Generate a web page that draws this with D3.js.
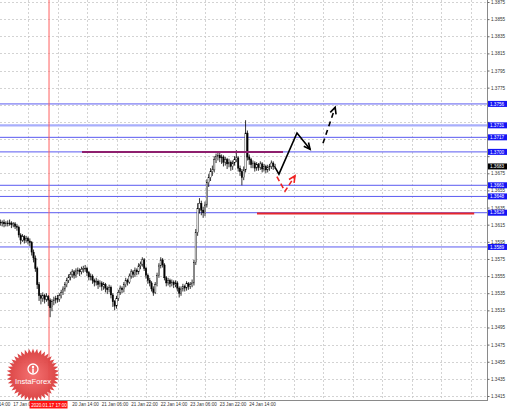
<!DOCTYPE html>
<html><head><meta charset="utf-8">
<script src="https://cdn.jsdelivr.net/npm/d3@7"></script>
<style>body{margin:0;background:#fff;} svg{display:block;font-family:"Liberation Sans",Arial,sans-serif;}</style>
</head><body>
<svg id="c" width="510" height="409"></svg>
<script>
// ---- DATA (H1 bars, hour index from 16 Jan 14:00) ----
const firstOpen = 1.3619;
const closes = [
1.3618,1.3617,1.3618,1.3616,1.3617,1.3616,1.3617,1.3615,1.3616,1.3613,
1.3612,1.3603,1.3597,1.3601,1.3597,1.3599,1.3596,1.3594,1.3583,1.3576,
1.3564,1.3545,1.3532,1.3529,1.3532,1.3528,1.3531,1.3527,1.3518,1.3525,
1.3527,1.3529,1.3528,1.3532,1.3536,1.3540,1.3545,1.3550,1.3554,1.3557,
1.3560,1.3556,1.3561,1.3562,1.3560,1.3563,1.3564,1.3564,1.3559,1.3554,
1.3555,1.3550,1.3548,1.3549,1.3545,1.3547,1.3543,1.3545,1.3541,1.3539,
1.3542,1.3533,1.3525,1.3520,1.3529,1.3536,1.3541,1.3539,1.3545,1.3550,
1.3548,1.3555,1.3560,1.3557,1.3562,1.3560,1.3567,1.3569,1.3574,1.3564,
1.3556,1.3550,1.3547,1.3540,1.3536,1.3545,1.3556,1.3567,1.3574,1.3568,
1.3553,1.3547,1.3550,1.3546,1.3548,1.3545,1.3547,1.3541,1.3535,1.3540,
1.3543,1.3541,1.3546,1.3543,1.3545,1.3547,1.3571,1.3606,1.3634,1.3640,
1.3632,1.3629,1.3638,1.3664,1.3670,1.3677,1.3679,1.3691,1.3695,1.3696,
1.3693,1.3694,1.3688,1.3691,1.3686,1.3688,1.3683,1.3687,1.3691,1.3693,
1.3681,1.3677,1.3670,1.3679,1.3722,1.3694,1.3691,1.3685,1.3687,1.3681,
1.3685,1.3682,1.3686,1.3680,1.3683,1.3679,1.3682,1.3683,1.3687,1.3683,
1.3683];
const highs = [
1.3622,1.3621,1.3620,1.3621,1.3619,1.3620,1.3621,1.3619,1.3618,1.3618,
1.3616,1.3614,1.3605,1.3604,1.3603,1.3602,1.3601,1.3599,1.3596,1.3586,
1.3579,1.3566,1.3548,1.3535,1.3536,1.3534,1.3535,1.3533,1.3529,1.3528,
1.3531,1.3532,1.3533,1.3535,1.3539,1.3543,1.3548,1.3553,1.3557,1.3560,
1.3563,1.3562,1.3564,1.3565,1.3564,1.3566,1.3567,1.3568,1.3566,1.3561,
1.3558,1.3557,1.3552,1.3553,1.3551,1.3550,1.3549,1.3548,1.3547,1.3543,
1.3545,1.3544,1.3535,1.3527,1.3532,1.3539,1.3544,1.3543,1.3548,1.3553,
1.3552,1.3558,1.3563,1.3562,1.3565,1.3564,1.3570,1.3572,1.3577,1.3576,
1.3566,1.3558,1.3553,1.3549,1.3543,1.3548,1.3559,1.3570,1.3577,1.3576,
1.3570,1.3555,1.3553,1.3552,1.3551,1.3550,1.3550,1.3549,1.3543,1.3543,
1.3546,1.3545,1.3549,1.3548,1.3548,1.3551,1.3574,1.3610,1.3640,1.3646,
1.3643,1.3636,1.3642,1.3668,1.3674,1.3681,1.3684,1.3695,1.3698,1.3700,
1.3699,1.3697,1.3696,1.3694,1.3693,1.3692,1.3690,1.3690,1.3695,1.3702,
1.3695,1.3684,1.3680,1.3683,1.3737,1.3725,1.3697,1.3693,1.3690,1.3689,
1.3688,1.3687,1.3689,1.3688,1.3686,1.3685,1.3685,1.3686,1.3690,1.3689,
1.3686];
const lows = [
1.3615,1.3614,1.3613,1.3612,1.3613,1.3613,1.3614,1.3611,1.3612,1.3610,
1.3608,1.3600,1.3592,1.3595,1.3593,1.3594,1.3592,1.3590,1.3579,1.3571,
1.3560,1.3540,1.3526,1.3522,1.3525,1.3523,1.3525,1.3520,1.3507,1.3514,
1.3521,1.3523,1.3524,1.3525,1.3529,1.3533,1.3537,1.3542,1.3547,1.3550,
1.3553,1.3552,1.3553,1.3557,1.3555,1.3557,1.3559,1.3560,1.3555,1.3550,
1.3550,1.3546,1.3543,1.3544,1.3540,1.3542,1.3538,1.3539,1.3536,1.3534,
1.3536,1.3529,1.3519,1.3515,1.3517,1.3526,1.3533,1.3535,1.3536,1.3542,
1.3544,1.3546,1.3552,1.3553,1.3554,1.3556,1.3557,1.3563,1.3566,1.3561,
1.3552,1.3546,1.3543,1.3537,1.3532,1.3534,1.3543,1.3553,1.3564,1.3565,
1.3550,1.3543,1.3544,1.3542,1.3543,1.3541,1.3542,1.3537,1.3530,1.3532,
1.3537,1.3537,1.3538,1.3539,1.3540,1.3542,1.3544,1.3568,1.3602,1.3628,
1.3626,1.3623,1.3625,1.3635,1.3659,1.3666,1.3672,1.3676,1.3687,1.3690,
1.3688,1.3686,1.3683,1.3684,1.3680,1.3682,1.3678,1.3679,1.3684,1.3688,
1.3677,1.3672,1.3661,1.3667,1.3676,1.3690,1.3685,1.3681,1.3681,1.3677,
1.3678,1.3678,1.3679,1.3676,1.3677,1.3675,1.3676,1.3678,1.3680,1.3679,
1.3680];

const priceTicks = [1.3875,1.3855,1.3835,1.3815,1.3795,1.3775,1.3755,1.3735,1.3715,1.3695,1.3675,1.3655,1.3635,1.3615,1.3595,1.3575,1.3555,1.3535,1.3515,1.3495,1.3475,1.3455,1.3435,1.3415];
const timeLabelHours = [0,16,48,64,80,96,112,128,144];
const timeLabels = ["16 Jan 14:00","17 Jan 06:00","20 Jan 14:00","21 Jan 06:00","21 Jan 22:00","22 Jan 14:00","23 Jan 06:00","23 Jan 22:00","24 Jan 14:00"];
const gridHours = [0,16,32,48,64,80,96,112,128,144,160,176,192,208,224,240,256];

const levelValues = [1.3756,1.3731,1.3717,1.3700,1.3661,1.3648,1.3629,1.3589];
const levelLabels = ["1.3756","1.3731","1.3717","1.3700","1.3661","1.3648","1.3629","1.3589"];
const currentPrice = 1.3683;
const purpleSeg = {from:45.3, to:154.3, price:1.3700};
const redSeg = {from:140.2, to:258, price:1.3628};
const vLineHour = 27.4;
const vLineLabel = "2020.01.17 17:00";

const mainArrow = [[150.0,1.3682],[152.1,1.3674],[161.9,1.3722],[169.0,1.3703]];
const dashArrow = [[176.0,1.3710],[182.6,1.3752]];
const redArrow = [[151.0,1.3671],[155.4,1.3654],[160.8,1.3672]];

// ---- CHART ----
const plotR=487, plotB=400;
const svg=d3.select("#c");
const x=d3.scaleLinear().domain([0,144]).range([-1.5,264]);
const y=d3.scaleLinear().domain([1.3415,1.3875]).range([396,2]);

const defs=svg.append("defs");
defs.append("clipPath").attr("id","pc").append("rect").attr("x",0).attr("y",0).attr("width",plotR).attr("height",plotB);
const g=svg.append("g").attr("clip-path","url(#pc)");

// grid
g.selectAll(".hg").data(priceTicks).enter().append("line")
 .attr("x1",0).attr("x2",plotR).attr("y1",d=>Math.round(y(d))+0.5).attr("y2",d=>Math.round(y(d))+0.5)
 .attr("stroke","#c8c8c8").attr("stroke-dasharray","2,2").attr("stroke-width",0.8);
g.selectAll(".vg").data(gridHours).enter().append("line")
 .attr("y1",0).attr("y2",plotB).attr("x1",d=>Math.round(x(d))+0.5).attr("x2",d=>Math.round(x(d))+0.5)
 .attr("stroke","#c8c8c8").attr("stroke-dasharray","2,2").attr("stroke-width",0.8);

// level lines
g.selectAll(".lv").data(levelValues).enter().append("line")
 .attr("x1",0).attr("x2",plotR).attr("y1",d=>y(d)).attr("y2",d=>y(d))
 .attr("stroke",(d,i)=>i===1?"#a8aefc":"#5a5af0").attr("stroke-width",(d,i)=>i===1?2.2:1);

// vertical red line
g.append("line").attr("x1",x(vLineHour)).attr("x2",x(vLineHour)).attr("y1",0).attr("y2",plotB)
 .attr("stroke","#ff6060").attr("stroke-width",1);

// candles
const bars=closes.map((c,i)=>({i,o:i===0?firstOpen:closes[i-1],c,h:highs[i],l:lows[i]}));
const cg=g.append("g");
cg.selectAll(".wk").data(bars).enter().append("line")
 .attr("x1",d=>x(d.i)).attr("x2",d=>x(d.i)).attr("y1",d=>y(d.h)).attr("y2",d=>y(d.l))
 .attr("stroke","#000").attr("stroke-width",0.8);
cg.selectAll(".bd").data(bars).enter().append("rect")
 .attr("x",d=>x(d.i)-0.7).attr("width",1.4)
 .attr("y",d=>y(Math.max(d.o,d.c))).attr("height",d=>Math.max(0.6,Math.abs(y(d.o)-y(d.c))))
 .attr("fill",d=>d.c>=d.o?"#fff":"#000").attr("stroke","#000").attr("stroke-width",0.4);

// segments
g.append("line").attr("x1",x(purpleSeg.from)).attr("x2",x(purpleSeg.to)).attr("y1",y(purpleSeg.price)).attr("y2",y(purpleSeg.price))
 .attr("stroke","#8e1f6e").attr("stroke-width",2);
g.append("line").attr("x1",x(redSeg.from)).attr("x2",x(redSeg.to)).attr("y1",y(redSeg.price)).attr("y2",y(redSeg.price))
 .attr("stroke","#e8262a").attr("stroke-width",2);

// arrows
function arrow(pts,color,dash,w){
  const line=d3.line().x(p=>x(p[0])).y(p=>y(p[1]));
  g.append("path").attr("d",line(pts)).attr("fill","none").attr("stroke",color).attr("stroke-width",w)
   .attr("stroke-dasharray",dash||null).attr("stroke-linejoin","miter");
  const a=pts[pts.length-2], b=pts[pts.length-1];
  const ax=x(a[0]),ay=y(a[1]),bx=x(b[0]),by=y(b[1]);
  const ang=Math.atan2(by-ay,bx-ax), L=7, sp=0.45;
  const p1=[bx-L*Math.cos(ang-sp),by-L*Math.sin(ang-sp)];
  const p2=[bx-L*Math.cos(ang+sp),by-L*Math.sin(ang+sp)];
  g.append("path").attr("d",`M${p1[0]},${p1[1]}L${bx},${by}L${p2[0]},${p2[1]}`)
   .attr("fill","none").attr("stroke",color).attr("stroke-width",w);
}
arrow(mainArrow,"#000",null,1.6);
arrow(dashArrow,"#000","5,4",1.6);
arrow(redArrow,"#ee2222","5,3",1.6);

// logo
const lg=svg.append("g").attr("transform","translate(33,375)");
const grad=defs.append("radialGradient").attr("id","lgr");
grad.append("stop").attr("offset","0%").attr("stop-color","#f46a6a");
grad.append("stop").attr("offset","100%").attr("stop-color","#d83a3a");
const n=40, pts=[];
for(let k=0;k<n*2;k++){const r=k%2?22:26.5, a=k*Math.PI/n; pts.push([r*Math.cos(a),r*Math.sin(a)]);}
lg.append("path").attr("d","M"+pts.map(p=>p.join(",")).join("L")+"Z").attr("fill","url(#lgr)").attr("opacity",0.95);
lg.append("circle").attr("cx",0).attr("cy",-6).attr("r",5).attr("fill","none").attr("stroke","#fff").attr("stroke-width",1.3);
lg.append("circle").attr("cx",0).attr("cy",-8).attr("r",1.2).attr("fill","#fff");
lg.append("rect").attr("x",-0.8).attr("y",-6.5).attr("width",1.6).attr("height",4.5).attr("fill","#fff");
lg.append("text").attr("x",0).attr("y",9).attr("text-anchor","middle").attr("fill","#fff")
 .attr("font-size",7.6).text("InstaForex");

// axes frame
svg.append("line").attr("x1",plotR+0.5).attr("x2",plotR+0.5).attr("y1",0).attr("y2",plotB+1).attr("stroke","#8a8a8a");
svg.append("line").attr("x1",0).attr("x2",plotR+1).attr("y1",plotB+0.5).attr("y2",plotB+0.5).attr("stroke","#8a8a8a");

// price axis (tick labels hidden where a level label box covers them)
const covered=d=>levelValues.concat([currentPrice]).some(v=>Math.abs(y(v)-y(d))<5);
const ya=svg.append("g").attr("transform",`translate(${plotR+0.5},0)`)
 .call(d3.axisRight(y).tickValues(priceTicks).tickFormat(d3.format(".4f")).tickSize(2).tickPadding(1.5));
ya.select(".domain").remove();
ya.selectAll("line").attr("stroke","#666");
ya.selectAll("text").attr("font-size",4.6).attr("fill","#333").attr("font-family","Liberation Sans, Arial, sans-serif")
 .attr("display",d=>covered(d)?"none":null);

// level labels
const lb=svg.append("g");
lb.selectAll("rect").data(levelValues).enter().append("rect")
 .attr("x",plotR+1).attr("y",d=>y(d)-3).attr("width",19).attr("height",6).attr("fill","#1515f5");
lb.selectAll("text").data(levelLabels).enter().append("text")
 .attr("x",plotR+3).attr("y",(d,i)=>y(levelValues[i])+1.7).attr("font-size",4.6).attr("fill","#fff").text(d=>d);
svg.append("rect").attr("x",plotR+1).attr("y",y(currentPrice)-3).attr("width",19).attr("height",6).attr("fill","#000");
svg.append("text").attr("x",plotR+3).attr("y",y(currentPrice)+1.7).attr("font-size",4.6).attr("fill","#fff").text(d3.format(".4f")(currentPrice));

// time axis
const xa=svg.append("g").attr("transform",`translate(0,${plotB+0.5})`)
 .call(d3.axisBottom(x).tickValues(timeLabelHours).tickFormat((d,i)=>timeLabels[i]).tickSize(0).tickPadding(2.5));
xa.select(".domain").remove();
xa.selectAll("text").attr("font-size",4.6).attr("fill","#333").attr("dx",-2).attr("font-family","Liberation Sans, Arial, sans-serif");

// vertical line time label
const vx=x(vLineHour);
svg.append("rect").attr("x",vx-19.5).attr("y",plotB+1).attr("width",38).attr("height",7.5).attr("fill","#ff1010");
svg.append("text").attr("x",vx).attr("y",plotB+6.8).attr("text-anchor","middle").attr("font-size",4.6).attr("fill","#fff").text(vLineLabel);
</script>
</body></html>
